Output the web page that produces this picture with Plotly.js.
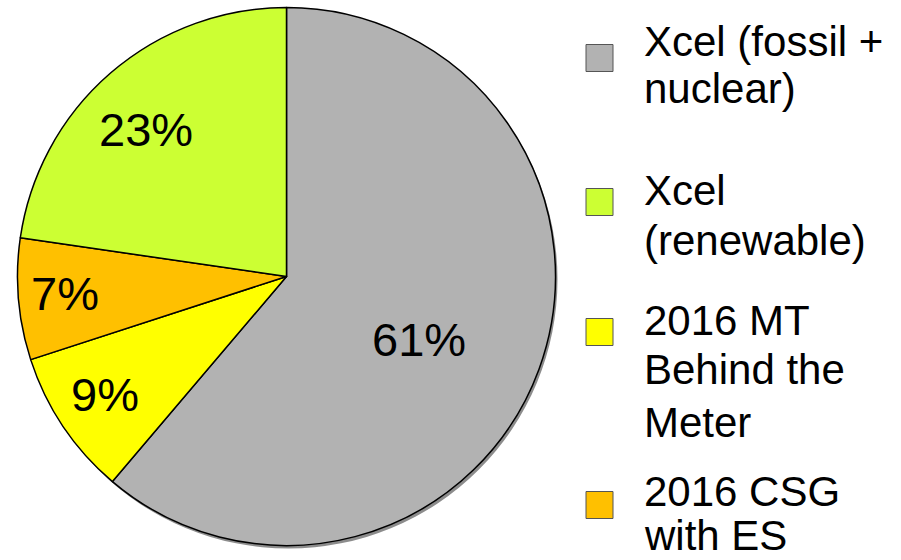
<!DOCTYPE html>
<html>
<head>
<meta charset="utf-8">
<script src="https://cdn.plot.ly/plotly-3.0.1.min.js"></script>
<style>html,body{margin:0;padding:0;background:#fff;}#chart{width:901px;height:560px;}</style>
</head>
<body>
<div id="chart"></div>
<script>
// Data (pie order, clockwise from 12 o'clock)
const labels = ['Xcel (fossil +<br>nuclear)', '2016 MT<br>Behind the<br>Meter', '2016 CSG<br>with ES', 'Xcel<br>(renewable)'];
const values = [61.2, 8.8, 7.3, 22.7];
const colors = ['#B2B2B2', '#FFFF00', '#FFC000', '#CCFF33'];
// legend display order (indexes into labels)
const legendOrder = [0, 3, 1, 2];

const W = 901, H = 560;
const FONT = 'Liberation Sans, Arial, sans-serif';

// pie geometry (pixels)
const cx = 286.5, cy = 276.5, R = 269;
// placement of each percentage label: fraction of radius, and angle offset (deg) from the slice bisector
const labelRadius = [0.545, 0.806, 0.826, 0.755];
const labelAngleOffset = [5.1, 0.8, 0.4, -2.9];

// legend layout (pixels)
const legendSquareCenters = [58, 202, 332, 505];
const legendBaselines = [[56, 103], [205, 255], [335, 384, 437], [506, 550]];
const legendFont = 42;

const px = x => x / W;
const py = y => 1 - y / H;

const trace = {
  type: 'pie',
  labels: labels,
  values: values,
  sort: false,
  direction: 'clockwise',
  rotation: 0,
  marker: {colors: colors, line: {color: '#000', width: 1.5}},
  textinfo: 'none',
  hoverinfo: 'skip',
  showlegend: false,
  domain: {x: [px(cx - R), px(cx + R)], y: [1 - (cy + R) / H, 1 - (cy - R) / H]}
};

const shapes = [{
  type: 'circle', xref: 'paper', yref: 'paper', layer: 'below',
  x0: px(cx - R + 2), x1: px(cx + R + 2), y0: py(cy + R + 3), y1: py(cy - R + 3),
  fillcolor: 'rgba(0,0,0,0.45)', line: {width: 0}
}];
const annotations = [];

// percentage labels near each slice's bisector
const total = values.reduce((a, b) => a + b, 0);
let cum = 0;
values.forEach((v, i) => {
  const mid = (cum + v / 2) / total * 2 * Math.PI + labelAngleOffset[i] * Math.PI / 180; // clockwise from top
  cum += v;
  const r = labelRadius[i] * R;
  annotations.push({
    xref: 'paper', yref: 'paper',
    x: px(cx + r * Math.sin(mid)), y: py(cy - r * Math.cos(mid)),
    xanchor: 'center', yanchor: 'middle', showarrow: false,
    text: Math.round(v / total * 100) + '%',
    font: {family: FONT, size: 47, color: '#000'}
  });
});

legendOrder.forEach((idx, k) => {
  const c = legendSquareCenters[k];
  shapes.push({
    type: 'rect', xref: 'paper', yref: 'paper',
    x0: px(586), x1: px(613), y0: py(c + 13.5), y1: py(c - 13.5),
    fillcolor: colors[idx], line: {color: '#555', width: 1}
  });
  const lines = labels[idx].split('<br>');
  lines.forEach((t, j) => {
    annotations.push({
      xref: 'paper', yref: 'paper', x: px(642), y: py(legendBaselines[k][j] - 0.3465 * legendFont),
      xanchor: 'left', yanchor: 'middle', showarrow: false, text: t,
      font: {family: FONT, size: legendFont, color: '#000'}
    });
  });
});

const layout = {
  width: W, height: H,
  margin: {l: 0, r: 0, t: 0, b: 0},
  paper_bgcolor: '#fff',
  showlegend: false,
  shapes: shapes,
  annotations: annotations,
  font: {family: FONT}
};

Plotly.newPlot('chart', [trace], layout, {displayModeBar: false, staticPlot: true});
</script>
</body>
</html>
